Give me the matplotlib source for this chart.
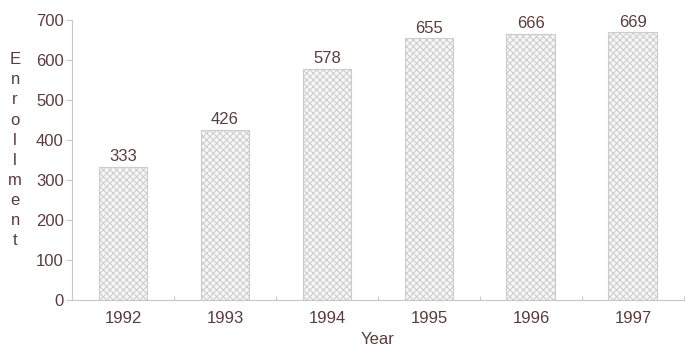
import matplotlib.pyplot as plt
import numpy as np

years = ["1992", "1993", "1994", "1995", "1996", "1997"]
enrollment = [333, 426, 578, 655, 666, 669]
yticks = [0, 100, 200, 300, 400, 500, 600, 700]

text_color = "#5b3c3c"
axis_color = "#c8c8c8"
plt.rcParams["font.family"] = ["Liberation Sans", "DejaVu Sans"]
plt.rcParams["hatch.color"] = "#c0c0c0"
plt.rcParams["hatch.linewidth"] = 0.7

fig = plt.figure(figsize=(6.86, 3.49), dpi=100)
ax = fig.add_axes([0.105, 0.14, 0.892, 0.803])

x = np.arange(len(years))
bars = ax.bar(x, enrollment, width=0.48, color="#f6f6f6", edgecolor="#cccccc",
              linewidth=0.8, hatch="xxxxx")

for xi, v in zip(x, enrollment):
    ax.text(xi, v + 6, str(v), ha="center", va="bottom", fontsize=12,
            color=text_color)

ax.set_xlim(-0.5, len(years) - 0.5)
ax.set_ylim(0, 700)
ax.set_yticks(yticks)
ax.set_yticklabels([str(t) for t in yticks])
ax.set_xticks(x)
ax.set_xticklabels(years)
ax.set_xticks(np.arange(len(years)) + 0.5, minor=True)

ax.tick_params(axis="y", colors=axis_color, labelcolor=text_color, labelsize=12,
               length=4, width=0.8, pad=2)
ax.tick_params(axis="x", which="major", length=0, labelcolor=text_color,
               labelsize=12, pad=8)
ax.tick_params(axis="x", which="minor", length=3, width=0.8, colors=axis_color,
               direction="in")

for side in ["top", "right"]:
    ax.spines[side].set_visible(False)
for side in ["left", "bottom"]:
    ax.spines[side].set_color(axis_color)
    ax.spines[side].set_linewidth(0.8)

ax.set_xlabel("Year", fontsize=12, color=text_color, labelpad=4)
fig.text(0.022, 0.57, "\n".join("Enrollment"), ha="center", va="center",
         fontsize=12, color=text_color, linespacing=1.42)

fig.savefig("out.png", dpi=100)
